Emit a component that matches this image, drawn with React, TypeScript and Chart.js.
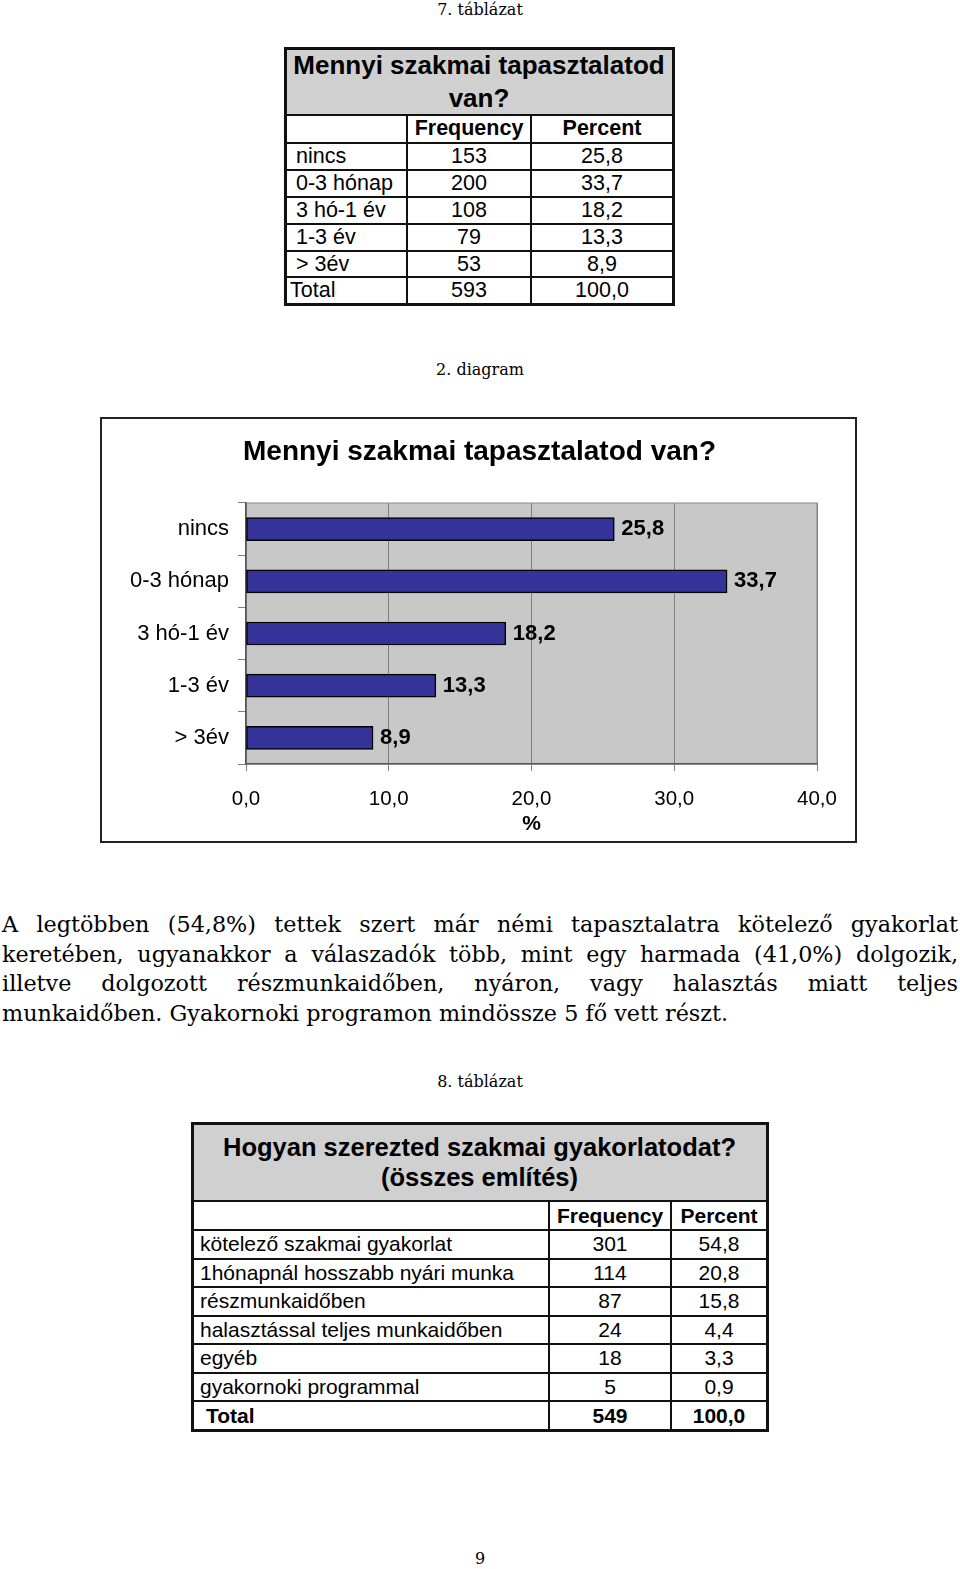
import { useEffect, useRef } from "react";
import { Chart, registerables } from "chart.js";

Chart.register(...registerables);

// 7. táblázat / 2. diagram data
const categories = ["nincs", "0-3 hónap", "3 hó-1 év", "1-3 év", "> 3év"];
const frequencies = [153, 200, 108, 79, 53];
const percents = [25.8, 33.7, 18.2, 13.3, 8.9];
const totalFrequency = 593;
const totalPercent = 100.0;
const xTickValues = [0, 10, 20, 30, 40];
const chartTitle = "Mennyi szakmai tapasztalatod van?";

// 8. táblázat data
const practiceTypes = [
  "kötelező szakmai gyakorlat",
  "1hónapnál hosszabb nyári munka",
  "részmunkaidőben",
  "halasztással teljes munkaidőben",
  "egyéb",
  "gyakornoki programmal"
];
const practiceFrequencies = [301, 114, 87, 24, 18, 5];
const practicePercents = [54.8, 20.8, 15.8, 4.4, 3.3, 0.9];
const practiceTotalFrequency = 549;
const practiceTotalPercent = 100.0;

const paragraphLines = [
  "A legtöbben (54,8%) tettek szert már némi tapasztalatra kötelező gyakorlat",
  "keretében, ugyanakkor a válaszadók több, mint egy harmada (41,0%) dolgozik,",
  "illetve dolgozott részmunkaidőben, nyáron, vagy halasztás miatt teljes",
  "munkaidőben. Gyakornoki programon mindössze 5 fő vett részt."
];

const fmt = (v: number) => v.toFixed(1).replace(".", ",");
const SANS = '"Liberation Sans", Arial, sans-serif';
const SERIF = '"DejaVu Serif", Georgia, serif';

const plotBackground = {
  id: "plotBackground",
  beforeDraw(chart: any) {
    const { ctx, chartArea: a } = chart;
    ctx.save();
    ctx.fillStyle = "#c8c8c8";
    ctx.fillRect(a.left, a.top, a.width, a.height);
    ctx.strokeStyle = "#8a8a8a";
    ctx.lineWidth = 1;
    ctx.strokeRect(a.left, a.top, a.width, a.height);
    ctx.restore();
  }
};

// title centred on the whole canvas (the plot area is off-centre)
const centeredTitle = {
  id: "centeredTitle",
  afterDraw(chart: any) {
    const { ctx } = chart;
    ctx.save();
    ctx.fillStyle = "#000";
    ctx.font = `bold 28px ${SANS}`;
    ctx.textAlign = "center";
    ctx.textBaseline = "middle";
    ctx.fillText(chartTitle, chart.width / 2 + 1, 33);
    ctx.restore();
  }
};

const barValueLabels = {
  id: "barValueLabels",
  afterDatasetsDraw(chart: any) {
    const { ctx } = chart;
    const meta = chart.getDatasetMeta(0);
    ctx.save();
    ctx.fillStyle = "#000";
    ctx.font = `bold 22px ${SANS}`;
    ctx.textAlign = "left";
    ctx.textBaseline = "middle";
    meta.data.forEach((bar: any, i: number) => {
      ctx.fillText(fmt(percents[i]), bar.x + 7, bar.y);
    });
    ctx.restore();
  }
};

function ExperienceChart() {
  const canvasRef = useRef<HTMLCanvasElement | null>(null);

  useEffect(() => {
    if (!canvasRef.current) return;
    const chart = new Chart(canvasRef.current, {
      type: "bar",
      data: {
        labels: categories,
        datasets: [
          {
            data: percents,
            backgroundColor: "#333399",
            borderColor: "#000",
            borderWidth: 1.5,
            borderSkipped: false,
            barThickness: 23
          }
        ]
      },
      options: {
        indexAxis: "y",
        animation: false,
        responsive: true,
        maintainAspectRatio: false,
        layout: { padding: { left: 0, right: 38, top: 84, bottom: 0 } },
        plugins: {
          legend: { display: false },
          tooltip: { enabled: false },
          title: { display: false }
        },
        scales: {
          x: {
            min: xTickValues[0],
            max: xTickValues[xTickValues.length - 1],
            afterBuildTicks: (scale: any) => {
              scale.ticks = xTickValues.map((value) => ({ value }));
            },
            afterFit: (scale: any) => {
              scale.height = 77;
            },
            ticks: {
              color: "#000",
              font: { family: SANS, size: 20.5 },
              padding: 16,
              maxRotation: 0,
              callback: (v: any) => fmt(Number(v))
            },
            grid: { color: "#808080", tickLength: 7, lineWidth: 1 },
            border: { color: "#555", width: 1.5 },
            title: {
              display: true,
              text: "%",
              color: "#000",
              font: { family: SANS, size: 21, weight: "bold" },
              padding: { top: 0, bottom: 4 }
            }
          },
          y: {
            afterFit: (scale: any) => {
              scale.width = 144;
            },
            ticks: {
              color: "#000",
              font: { family: SANS, size: 22 },
              padding: 9
            },
            grid: { drawOnChartArea: false, color: "#808080", tickLength: 8, offset: true },
            border: { color: "#555", width: 1.5 }
          }
        }
      },
      plugins: [plotBackground, barValueLabels, centeredTitle]
    } as any);
    return () => chart.destroy();
  }, []);

  return (
    <div
      style={{
        position: "absolute",
        left: 100,
        top: 417,
        width: 757,
        height: 426,
        border: "2px solid #222",
        boxSizing: "border-box",
        background: "#fff"
      }}
    >
      <div style={{ position: "relative", width: 753, height: 422 }}>
        <canvas ref={canvasRef} />
      </div>
    </div>
  );
}

type Cell = { text: string; bold?: boolean; align?: "left" | "center"; indent?: number };

function GridTable(props: {
  xs: number[];
  ys: number[];
  titleLines: string[];
  titleSize: number;
  titleLineHeight: number;
  rows: Cell[][];
  fontSize: number;
}) {
  const { xs, ys, titleLines, titleSize, titleLineHeight, rows, fontSize } = props;
  const left = xs[0];
  const right = xs[xs.length - 1];
  const top = ys[0];
  const bottom = ys[ys.length - 1];
  const parts: any[] = [];

  parts.push(
    <div
      key="bg"
      style={{ position: "absolute", left, top, width: right - left, height: ys[1] - top, background: "#d0d0d0" }}
    />
  );
  parts.push(
    <div
      key="title"
      style={{
        position: "absolute",
        left,
        top,
        width: right - left,
        height: ys[1] - top,
        display: "flex",
        flexDirection: "column",
        justifyContent: "center",
        alignItems: "center",
        fontFamily: SANS,
        fontWeight: "bold",
        fontSize: titleSize,
        lineHeight: `${titleLineHeight}px`,
        color: "#000"
      }}
    >
      {titleLines.map((l) => (
        <div key={l}>{l}</div>
      ))}
    </div>
  );
  ys.slice(1, -1).forEach((y, i) =>
    parts.push(
      <div
        key={"h" + i}
        style={{ position: "absolute", left, top: y - 1, width: right - left, height: 2, background: "#111" }}
      />
    )
  );
  xs.slice(1, -1).forEach((x, i) =>
    parts.push(
      <div
        key={"v" + i}
        style={{ position: "absolute", left: x - 1, top: ys[1], width: 2, height: bottom - ys[1], background: "#111" }}
      />
    )
  );
  parts.push(
    <div
      key="outer"
      style={{
        position: "absolute",
        left: left - 1.5,
        top: top - 1.5,
        width: right - left + 3,
        height: bottom - top + 3,
        border: "3px solid #111",
        boxSizing: "border-box"
      }}
    />
  );
  rows.forEach((row, r) =>
    row.forEach((cell, c) => {
      const x0 = xs[c];
      const x1 = xs[c + 1];
      const y0 = ys[r + 1];
      const y1 = ys[r + 2];
      const indent = cell.indent ?? 0;
      parts.push(
        <div
          key={`c${r}-${c}`}
          style={{
            position: "absolute",
            left: x0 + indent,
            top: y0,
            width: x1 - x0 - indent,
            height: y1 - y0,
            fontFamily: SANS,
            fontSize,
            fontWeight: cell.bold ? "bold" : "normal",
            lineHeight: `${y1 - y0}px`,
            textAlign: cell.align ?? "center",
            whiteSpace: "nowrap",
            color: "#000"
          }}
        >
          {cell.text}
        </div>
      );
    })
  );
  return <>{parts}</>;
}

const caption = (text: string, centerY: number, key: string) => (
  <div
    key={key}
    style={{
      position: "absolute",
      left: 0,
      width: 960,
      top: centerY - 12,
      height: 24,
      lineHeight: "24px",
      textAlign: "center",
      fontFamily: SERIF,
      fontSize: 16,
      color: "#000"
    }}
  >
    {text}
  </div>
);

export default function App() {
  const table1Rows: Cell[][] = [
    [{ text: "" }, { text: "Frequency", bold: true }, { text: "Percent", bold: true }],
    ...categories.map((c, i) => [
      { text: c, align: "left" as const, indent: 11 },
      { text: String(frequencies[i]) },
      { text: fmt(percents[i]) }
    ]),
    [{ text: "Total", align: "left", indent: 5 }, { text: String(totalFrequency) }, { text: fmt(totalPercent) }]
  ];

  const table2Rows: Cell[][] = [
    [{ text: "" }, { text: "Frequency", bold: true }, { text: "Percent", bold: true }],
    ...practiceTypes.map((c, i) => [
      { text: c, align: "left" as const, indent: 8 },
      { text: String(practiceFrequencies[i]) },
      { text: fmt(practicePercents[i]) }
    ]),
    [
      { text: "Total", align: "left", indent: 14, bold: true },
      { text: String(practiceTotalFrequency), bold: true },
      { text: fmt(practiceTotalPercent), bold: true }
    ]
  ];

  return (
    <div
      style={{
        position: "absolute",
        left: 0,
        top: 0,
        width: 960,
        height: 1569,
        background: "#fff",
        overflow: "hidden"
      }}
    >
      {caption("7. táblázat", 10, "cap7")}
      <GridTable
        xs={[285, 407, 531, 673]}
        ys={[48, 115, 142.5, 169.5, 196.5, 223.5, 250.5, 277, 304]}
        titleLines={["Mennyi szakmai tapasztalatod", "van?"]}
        titleSize={26}
        titleLineHeight={33}
        rows={table1Rows}
        fontSize={21.5}
      />
      {caption("2. diagram", 370, "capd2")}
      <ExperienceChart />
      <div
        style={{
          position: "absolute",
          left: 2,
          top: 910,
          width: 956,
          fontFamily: SERIF,
          fontSize: 22.3,
          lineHeight: "29.5px",
          color: "#000"
        }}
      >
        {paragraphLines.map((line, i) => (
          <div
            key={i}
            style={{
              whiteSpace: "nowrap",
              textAlign: "justify",
              textAlignLast: i < paragraphLines.length - 1 ? "justify" : "left"
            }}
          >
            {line}
          </div>
        ))}
      </div>
      {caption("8. táblázat", 1082, "cap8")}
      <GridTable
        xs={[192, 549, 671, 767]}
        ys={[1123, 1201, 1230, 1258.5, 1287, 1315.5, 1344, 1372.5, 1401, 1430]}
        titleLines={["Hogyan szerezted szakmai gyakorlatodat?", "(összes említés)"]}
        titleSize={25.5}
        titleLineHeight={30}
        rows={table2Rows}
        fontSize={21}
      />
      {caption("9", 1559, "page")}
    </div>
  );
}
